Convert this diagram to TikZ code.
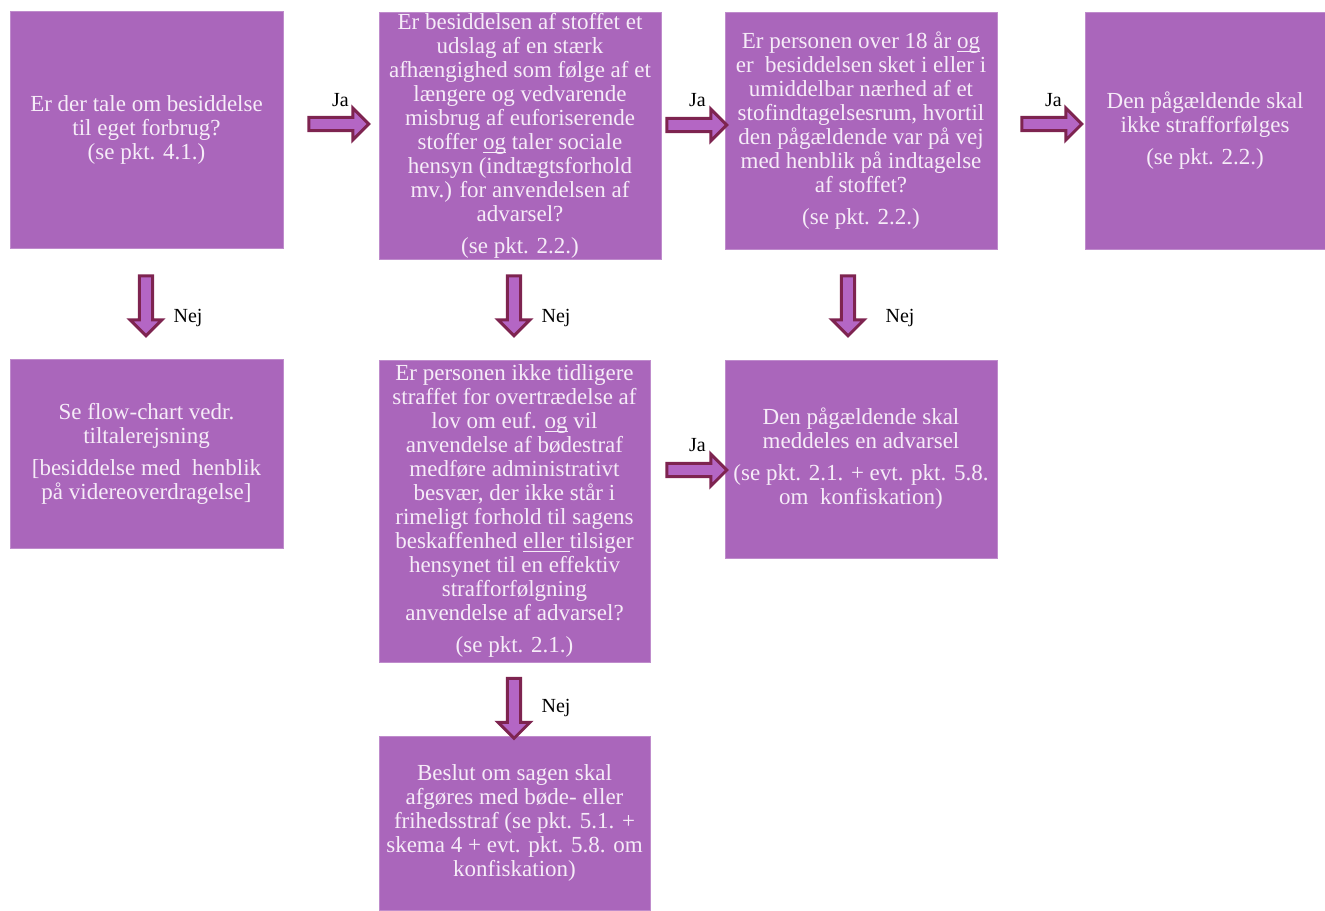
\documentclass[tikz,border=0pt]{standalone}
\usepackage{fontspec}
\setmainfont{Liberation Serif}
\usetikzlibrary{shapes.arrows,calc,positioning}
\definecolor{boxpurple}{HTML}{AA66BB}
\definecolor{boxtext}{HTML}{F6ECF8}
\definecolor{arrowrim}{HTML}{7E2450}
\definecolor{arrowfill}{HTML}{B466C4}
\newcommand\ulword[1]{\leavevmode\setbox0\hbox{#1}\rlap{\rule[-1.8pt]{\wd0}{0.55pt}}\box0}
\begin{document}
\begin{tikzpicture}[x=0.5pt,y=-0.5pt,
    box/.style={fill=boxpurple, draw=boxpurple!75!white, line width=0.4pt, text=boxtext,
      align=center, inner sep=0pt, font=\fontsize{11.5}{12}\selectfont},
    blockarrow/.style={shape=single arrow, fill=arrowfill, draw=arrowrim, line width=1.5pt,
      inner sep=2.6pt, minimum height=30pt, minimum width=15pt,
      single arrow head extend=4.6pt, single arrow tip angle=90},
    down/.style={blockarrow, rotate=-90},
    lbl/.style={font=\fontsize{10}{12}\selectfont}]
    \useasboundingbox (0,0) rectangle (1325,910);

    % top row
    \node[box, minimum width=136.5pt, minimum height=118.5pt] (tale) at (146.5,129.5)
      {Er der tale om besiddelse\\ til eget forbrug?\\ (se pkt. 4.1.)};
    \node[box, minimum width=141pt, minimum height=123.5pt] (afh) at (520,135.5)
      {Er besiddelsen af stoffet et\\ udslag af en stærk\\ afhængighed som følge af et\\
       længere og vedvarende\\ misbrug af euforiserende\\ stoffer \ulword{og}\ taler sociale\\
       hensyn (indtægtsforhold\\ mv.) for anvendelsen af\\ advarsel?\\[4pt] (se pkt. 2.2.)};
    \node[box, minimum width=136pt, minimum height=118.5pt] (over) at (861,130.5)
      {Er personen over 18 år \ulword{og}\\ er~ besiddelsen sket i eller i\\ umiddelbar nærhed af et\\
       stofindtagelsesrum, hvortil\\ den pågældende var på vej\\ med henblik på indtagelse\\
       af stoffet?\\[4pt] (se pkt. 2.2.)};
    \node[box, minimum width=120pt, minimum height=118.5pt] (ikke) at (1205,130.5)
      {Den pågældende skal\\ ikke strafforfølges\\[4pt] (se pkt. 2.2.)};

    % second row
    \node[box, minimum width=136.5pt, minimum height=94.5pt] (flow) at (146.5,453.5)
      {Se flow-chart vedr.\\ tiltalerejsning\\[4pt] [besiddelse med~ henblik\\ på videreoverdragelse]};
    \node[box, minimum width=135.5pt, minimum height=151pt] (tidl) at (514.5,511)
      {Er personen ikke tidligere\\ straffet for overtrædelse af\\ lov om euf. \ulword{og}\ vil\\
       anvendelse af bødestraf\\ medføre administrativt\\ besvær, der ikke står i\\
       rimeligt forhold til sagens\\ beskaffenhed \ulword{eller\ }tilsiger\\ hensynet til en effektiv\\
       strafforfølgning\\ anvendelse af advarsel?\\[4pt] (se pkt. 2.1.)};
    \node[box, minimum width=136pt, minimum height=99pt] (advar) at (861,459)
      {Den pågældende skal\\ meddeles en advarsel\\[4pt] (se pkt. 2.1. + evt. pkt. 5.8.\\ om~ konfiskation)};

    % bottom
    \node[box, minimum width=135.5pt, minimum height=87pt] (beslut) at (514.5,823)
      {Beslut om sagen skal\\ afgøres med bøde- eller\\ frihedsstraf (se pkt. 5.1. +\\
       skema 4 + evt. pkt. 5.8. om\\ konfiskation)};

    % arrows
    \node[blockarrow] (a1) at (335.5,124) {};
    \node[blockarrow] (a2) at (693.5,125) {};
    \node[blockarrow] (a3) at (1048.5,124) {};
    \node[blockarrow] (a4) at (693.5,470) {};
    \node[down] (d1) at (146,302.5) {};
    \node[down] (d2) at (514,302.5) {};
    \node[down] (d3) at (848,302.5) {};
    \node[down] (d4) at (514,705) {};

    \node[lbl] at ($(a1)+(5,-24)$) {Ja};
    \node[lbl] at ($(a2)+(4,-25)$) {Ja};
    \node[lbl] at ($(a3)+(5,-24)$) {Ja};
    \node[lbl] at ($(a4)+(4,-25)$) {Ja};
    \node[lbl] at ($(d1)+(42,16)$) {Nej};
    \node[lbl] at ($(d2)+(42,16)$) {Nej};
    \node[lbl] at ($(d3)+(52,16)$) {Nej};
    \node[lbl] at ($(d4)+(42,3)$) {Nej};
\end{tikzpicture}
\end{document}
